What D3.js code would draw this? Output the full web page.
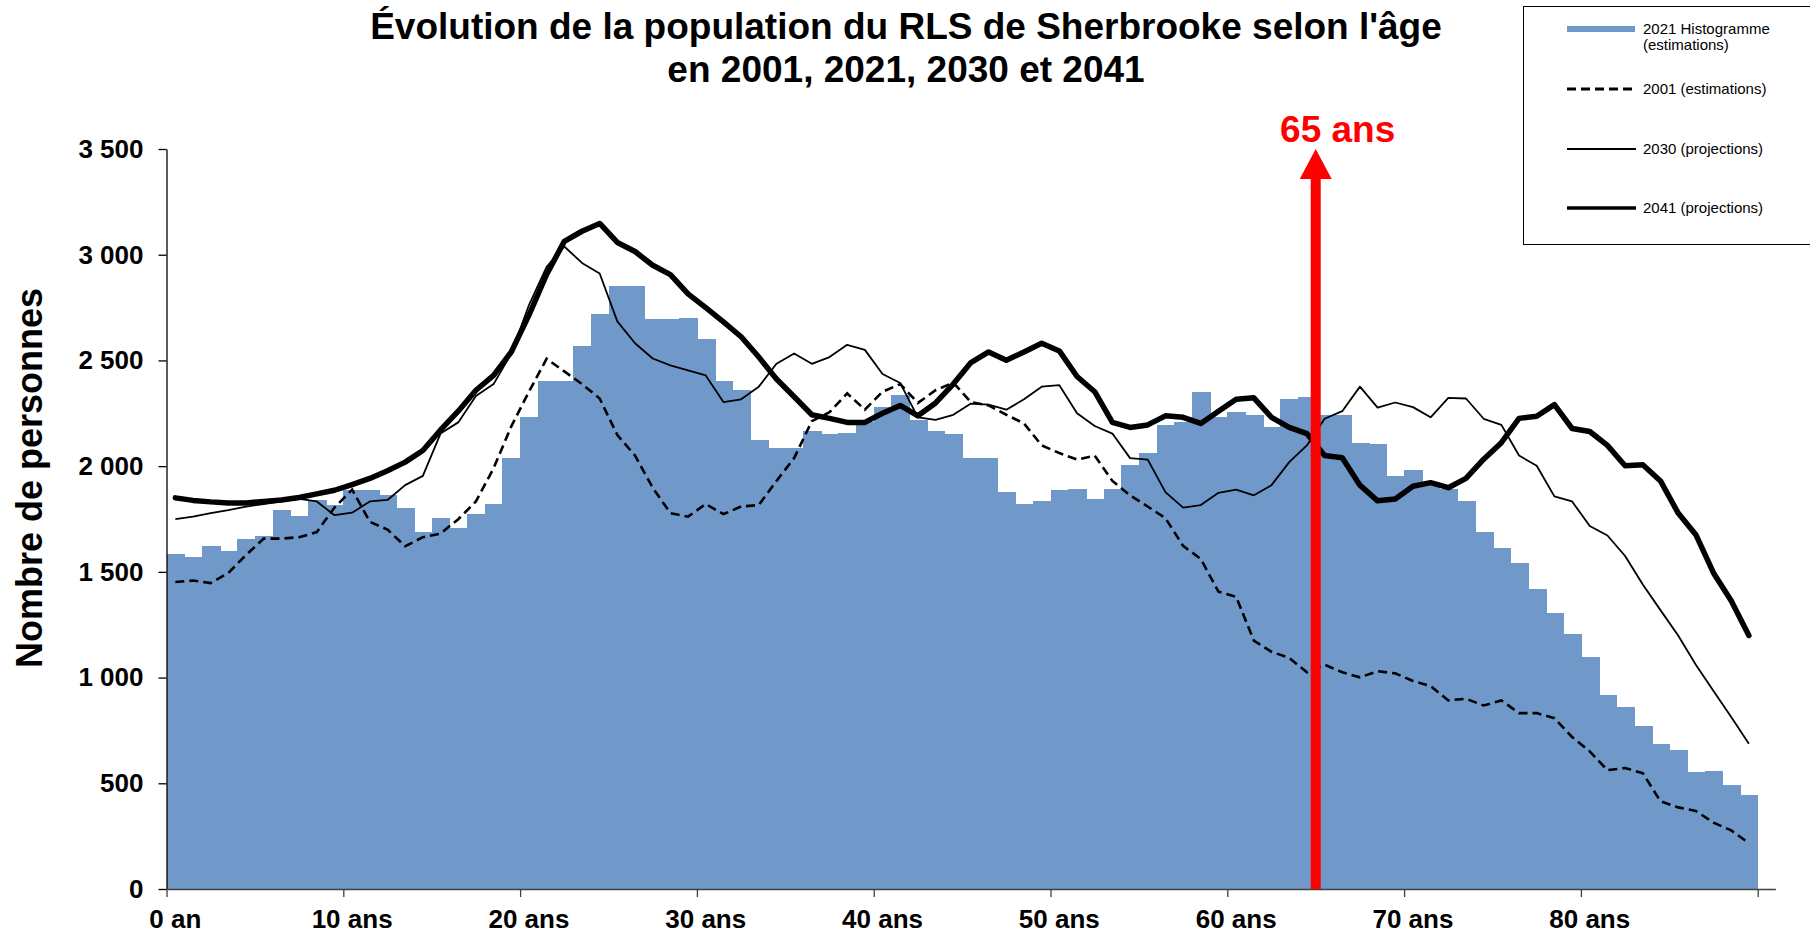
<!DOCTYPE html>
<html>
<head>
<meta charset="utf-8">
<script src="https://cdn.jsdelivr.net/npm/d3@7"></script>
<style>
  body { margin: 0; background: #fff; }
  svg { display: block; font-family: "Liberation Sans", Arial, sans-serif; }
</style>
</head>
<body>
<div id="chart"></div>
<script>
// Ages 0 to 89 (one bar / point per year of age)
var ages = d3.range(90);

// 2021 histogram (estimations)
var hist2021 = [1585,1568,1623,1599,1657,1671,1792,1766,1840,1816,
                1889,1889,1864,1804,1688,1754,1708,1773,1819,2040,
                2234,2402,2402,2566,2718,2853,2851,2697,2697,2701,
                2600,2405,2359,2123,2086,2086,2164,2154,2159,2207,
                2279,2335,2219,2166,2154,2038,2038,1877,1821,1833,
                1889,1893,1845,1893,2007,2062,2195,2207,2352,2231,
                2255,2243,2183,2316,2328,2243,2243,2111,2106,1954,
                1983,1920,1893,1833,1688,1611,1544,1421,1307,1208,
                1097,917,859,773,687,656,555,560,494,444];

// 2001 (estimations)
var pop2001 = [1452,1459,1447,1495,1580,1657,1657,1664,1688,1804,
               1889,1737,1700,1621,1664,1681,1749,1833,1990,2188,
               2352,2508,2448,2388,2320,2147,2050,1898,1778,1761,
               1821,1773,1809,1816,1930,2038,2213,2255,2344,2267,
               2352,2388,2299,2359,2395,2303,2287,2243,2202,2098,
               2062,2031,2050,1930,1862,1809,1754,1623,1561,1406,
               1382,1175,1122,1093,1025,1061,1025,1001,1030,1020,
               984,960,892,900,868,892,832,832,808,719,
               651,562,572,548,415,386,369,314,277,217];

// 2030 (projections)
var pop2030 = [1749,1761,1778,1792,1809,1821,1833,1845,1833,1768,
               1780,1833,1840,1910,1954,2154,2207,2332,2388,2533,
               2762,2943,3039,2961,2911,2685,2581,2509,2477,2453,
               2429,2303,2316,2376,2484,2533,2484,2516,2574,2550,
               2436,2393,2231,2219,2243,2296,2291,2267,2316,2376,
               2383,2250,2190,2154,2038,2031,1877,1804,1816,1874,
               1889,1862,1910,2019,2098,2224,2260,2376,2277,2301,
               2279,2231,2323,2320,2224,2195,2050,2002,1857,1833,
               1717,1672,1575,1440,1319,1199,1061,936,813,687];

// 2041 (projections)
var pop2041 = [1850,1838,1831,1826,1826,1833,1840,1852,1869,1886,
               1913,1942,1978,2019,2074,2171,2260,2359,2429,2540,
               2714,2907,3063,3111,3148,3058,3015,2950,2906,2815,
               2750,2682,2612,2516,2412,2328,2243,2226,2207,2207,
               2250,2287,2238,2299,2388,2490,2540,2501,2540,2581,
               2545,2424,2352,2207,2183,2195,2238,2231,2202,2260,
               2316,2323,2231,2183,2154,2050,2040,1910,1836,1845,
               1905,1922,1898,1942,2033,2111,2226,2236,2291,2178,
               2164,2098,2002,2007,1930,1778,1676,1495,1363,1199];

// Axis ticks
var yTicks = [0, 500, 1000, 1500, 2000, 2500, 3000, 3500];
var xTicks = [0, 10, 20, 30, 40, 50, 60, 70, 80, 90];
var xLabelAges = [0, 10, 20, 30, 40, 50, 60, 70, 80];
var xLabels = ["0 an", "10 ans", "20 ans", "30 ans", "40 ans", "50 ans", "60 ans", "70 ans", "80 ans"];

var markerAge = 65;
var markerLabel = "65 ans";

var legendItems = [
  {key: "hist", lines: ["2021 Histogramme", "(estimations)"]},
  {key: "2001", lines: ["2001 (estimations)"]},
  {key: "2030", lines: ["2030 (projections)"]},
  {key: "2041", lines: ["2041 (projections)"]}
];

var barColor = "#7099c9";

var W = 1810, H = 935;

var svg = d3.select("#chart")
  .append("svg")
    .attr("width", W)
    .attr("height", H);

svg.append("rect").attr("width", W).attr("height", H).attr("fill", "#fff");

// Scales: 91 categories on the axis, last one empty
var x = d3.scaleLinear().domain([0, 91]).range([166.5, 1775.4]);
var y = d3.scaleLinear().domain([0, 3500]).range([889, 149]);

// Histogram bars (no gap)
svg.append("g")
  .attr("shape-rendering", "crispEdges")
  .selectAll("rect")
  .data(hist2021)
  .enter()
  .append("rect")
    .attr("x", function(d, i) { return x(i); })
    .attr("y", function(d) { return y(d); })
    .attr("width", function(d, i) { return x(i + 1) - x(i) + (i < 89 ? 1 : 0); })
    .attr("height", function(d) { return y(0) - y(d); })
    .attr("fill", barColor);

// Lines at category centres
var line = d3.line()
  .x(function(d, i) { return x(i + 0.5); })
  .y(function(d) { return y(d); });

svg.append("path")
  .datum(pop2001)
  .attr("d", line)
  .attr("fill", "none")
  .attr("stroke", "#000")
  .attr("stroke-width", 2.6)
  .attr("stroke-dasharray", "9,5");

svg.append("path")
  .datum(pop2030)
  .attr("d", line)
  .attr("fill", "none")
  .attr("stroke", "#000")
  .attr("stroke-width", 1.8)
  .attr("stroke-linejoin", "round");

svg.append("path")
  .datum(pop2041)
  .attr("d", line)
  .attr("fill", "none")
  .attr("stroke", "#000")
  .attr("stroke-width", 5.5)
  .attr("stroke-linejoin", "round")
  .attr("stroke-linecap", "round");

// Y axis
var fmt = function(d) { return d3.format(",")(d).replace(",", " "); };
var yAxis = svg.append("g")
  .attr("transform", "translate(" + x(0) + ",0)")
  .call(d3.axisLeft(y).tickValues(yTicks).tickSize(8).tickSizeOuter(0).tickPadding(15).tickFormat(fmt));
yAxis.select(".domain").attr("stroke", "#000").attr("stroke-width", 1.3);
yAxis.selectAll(".tick line").attr("stroke", "#000").attr("stroke-width", 1.3);
yAxis.selectAll(".tick text")
  .attr("font-family", "Liberation Sans, Arial, sans-serif")
  .attr("font-size", 26)
  .attr("font-weight", "bold")
  .attr("fill", "#000");

// X axis
var xAxis = svg.append("g")
  .attr("transform", "translate(0," + y(0) + ")")
  .call(d3.axisBottom(x).tickValues(xTicks).tickSize(8).tickSizeOuter(0).tickFormat(""));
xAxis.select(".domain").attr("stroke", "#404040").attr("stroke-width", 1.5);
xAxis.selectAll(".tick line").attr("stroke", "#404040").attr("stroke-width", 1.3);

svg.append("g")
  .selectAll("text")
  .data(xLabelAges)
  .enter()
  .append("text")
    .attr("x", function(d) { return x(d + 0.5); })
    .attr("y", 928)
    .attr("text-anchor", "middle")
    .attr("font-size", 26)
    .attr("font-weight", "bold")
    .text(function(d, i) { return xLabels[i]; });

// Y axis title
svg.append("text")
  .attr("transform", "translate(42,478) rotate(-90)")
  .attr("text-anchor", "middle")
  .attr("font-size", 36)
  .attr("font-weight", "bold")
  .text("Nombre de personnes");

// Chart title
svg.append("text")
  .attr("x", 906).attr("y", 39)
  .attr("text-anchor", "middle")
  .attr("font-size", 37)
  .attr("font-weight", "bold")
  .text("Évolution de la population du RLS de Sherbrooke selon l'âge");
svg.append("text")
  .attr("x", 906).attr("y", 82)
  .attr("text-anchor", "middle")
  .attr("font-size", 37)
  .attr("font-weight", "bold")
  .text("en 2001, 2021, 2030 et 2041");

// 65 ans arrow
var ax = x(markerAge), tipY = y(3500), headH = 30, headW = 16, shaftW = 5;
svg.append("path")
  .attr("d", "M" + (ax - shaftW) + "," + y(0) +
             "L" + (ax - shaftW) + "," + (tipY + headH) +
             "L" + (ax - headW) + "," + (tipY + headH) +
             "L" + ax + "," + tipY +
             "L" + (ax + headW) + "," + (tipY + headH) +
             "L" + (ax + shaftW) + "," + (tipY + headH) +
             "L" + (ax + shaftW) + "," + y(0) + "Z")
  .attr("fill", "#ff0000");
svg.append("text")
  .attr("x", ax + 22).attr("y", 142)
  .attr("text-anchor", "middle")
  .attr("font-size", 37)
  .attr("font-weight", "bold")
  .attr("fill", "#ff0000")
  .text(markerLabel);

// Legend
var lg = svg.append("g");
lg.append("rect")
  .attr("x", 1523.5).attr("y", 6.5)
  .attr("width", 300).attr("height", 238)
  .attr("fill", "#fff")
  .attr("stroke", "#000")
  .attr("stroke-width", 1);

var legendY = [29, 89, 149, 208];
legendItems.forEach(function(item, i) {
  var cy = legendY[i];
  if (item.key === "hist") {
    lg.append("rect").attr("x", 1567).attr("y", cy - 3).attr("width", 68).attr("height", 6).attr("fill", barColor);
  } else {
    var l = lg.append("line")
      .attr("x1", 1567).attr("x2", 1636)
      .attr("y1", cy).attr("y2", cy)
      .attr("stroke", "#000");
    if (item.key === "2001") l.attr("stroke-width", 3).attr("stroke-dasharray", "9,5");
    if (item.key === "2030") l.attr("stroke-width", 1.8);
    if (item.key === "2041") l.attr("stroke-width", 3.5);
  }
  item.lines.forEach(function(t, j) {
    lg.append("text")
      .attr("x", 1643).attr("y", cy + 5 + j * 16)
      .attr("font-size", 15)
      .text(t);
  });
});
</script>
</body>
</html>
